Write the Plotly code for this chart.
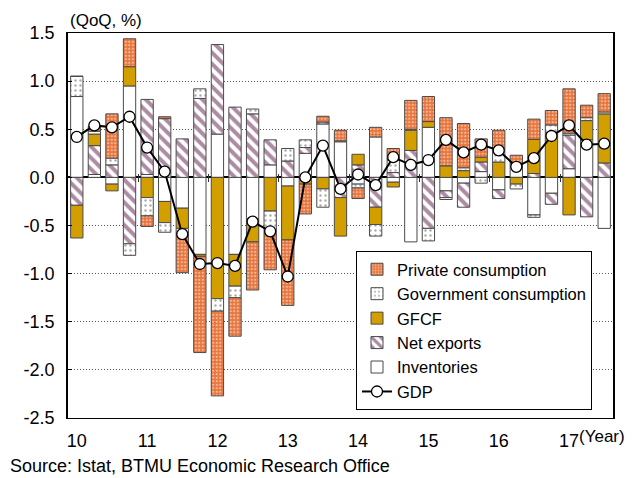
import plotly.graph_objects as go

# ---------------- data ----------------
quarters = ["2010Q1", "2010Q2", "2010Q3", "2010Q4",
            "2011Q1", "2011Q2", "2011Q3", "2011Q4",
            "2012Q1", "2012Q2", "2012Q3", "2012Q4",
            "2013Q1", "2013Q2", "2013Q3", "2013Q4",
            "2014Q1", "2014Q2", "2014Q3", "2014Q4",
            "2015Q1", "2015Q2", "2015Q3", "2015Q4",
            "2016Q1", "2016Q2", "2016Q3", "2016Q4",
            "2017Q1", "2017Q2", "2017Q3"]

private_consumption = [0.00, 0.05, 0.46, 0.29, -0.11, 0.02, -0.41, -1.00,
                       -0.88, -0.40, -0.50, -0.40, -0.68, -0.31, 0.06, 0.11,
                       -0.11, 0.10, 0.12, 0.30, 0.26, 0.50, 0.46, 0.19,
                       0.21, 0.08, 0.21, 0.15, 0.46, 0.13, 0.19]
government_consumption = [0.21, 0.03, 0.07, -0.12, -0.19, -0.10, -0.05, 0.10,
                          -0.13, -0.12, 0.05, -0.21, 0.13, 0.08, -0.19, 0.01,
                          -0.04, -0.12, 0.13, 0.01, -0.13, -0.02, 0.03, -0.06,
                          0.12, -0.05, -0.025, 0.075, 0.02, 0.03, 0.02]
gfcf = [-0.34, 0.12, -0.07, 0.20, -0.21, -0.22, -0.21, -0.02,
        -1.26, -0.33, -0.24, -0.35, -0.56, -0.07, -0.12, -0.40,
        0.11, -0.18, -0.05, 0.21, 0.06, 0.12, 0.07, 0.05,
        0.16, -0.07, 0.355, 0.47, -0.39, 0.20, 0.51]
net_exports = [-0.29, 0.30, 0.13, -0.69, 0.78, 0.61, 0.40, 0.82,
               0.93, 0.73, 0.66, 0.26, 0.17, 0.06, 0.02, -0.21,
               0.13, -0.31, 0.05, 0.28, -0.53, -0.07, -0.25, 0.10,
               -0.09, 0.01, 0.04, -0.115, 0.35, -0.41, 0.15]
inventories = [0.84, 0.03, -0.07, 0.95, 0.03, -0.25, -0.32, -0.80,
               0.45, -0.80, -0.43, 0.13, -0.09, 0.25, 0.555, 0.37,
               -0.07, 0.42, -0.05, -0.67, 0.52, -0.14, -0.06, 0.06,
               -0.13, 0.14, -0.39, -0.165, 0.09, 0.39, -0.53]
gdp = [0.42, 0.54, 0.52, 0.63, 0.31, 0.06, -0.59, -0.90,
       -0.89, -0.92, -0.46, -0.56, -1.03, 0.00, 0.33, -0.12,
       0.03, -0.08, 0.21, 0.13, 0.18, 0.39, 0.26, 0.34,
       0.28, 0.11, 0.20, 0.43, 0.54, 0.34, 0.35]

year_labels = ["10", "11", "12", "13", "14", "15", "16", "17"]
y_tick_values = [1.5, 1.0, 0.5, 0.0, -0.5, -1.0, -1.5, -2.0, -2.5]
y_tick_text = ["1.5", "1.0", "0.5", "0.0", "-0.5", "-1.0", "-1.5", "-2.0", "-2.5"]

# ---------------- derived positions ----------------
x_idx = list(range(len(quarters)))
year_tick_pos = [i for i, q in enumerate(quarters) if q.endswith("Q1")]
year_bound_pos = [p - 0.5 for p in year_tick_pos[1:]]

FONT = "Liberation Sans, Arial, sans-serif"
OUTLINE = dict(color="#4a4a4a", width=1)
BARW = 0.7

fig = go.Figure()

fig.add_trace(go.Bar(
    x=x_idx, y=inventories, name="Inventories", width=BARW, legendrank=5,
    marker=dict(color="white", line=OUTLINE)))
fig.add_trace(go.Bar(
    x=x_idx, y=net_exports, name="Net exports", width=BARW, legendrank=4,
    marker=dict(color="white", line=OUTLINE,
                pattern=dict(shape="\\", fgcolor="#5a1748", bgcolor="white",
                             size=8, solidity=0.5))))
fig.add_trace(go.Bar(
    x=x_idx, y=gfcf, name="GFCF", width=BARW, legendrank=3,
    marker=dict(color="#D29E00", line=OUTLINE)))
fig.add_trace(go.Bar(
    x=x_idx, y=government_consumption, name="Government consumption",
    width=BARW, legendrank=2,
    marker=dict(color="white", line=OUTLINE,
                pattern=dict(shape=".", fgcolor="#555555", bgcolor="white",
                             size=5, solidity=0.18))))
fig.add_trace(go.Bar(
    x=x_idx, y=private_consumption, name="Private consumption",
    width=BARW, legendrank=1,
    marker=dict(color="#E8743B", line=OUTLINE,
                pattern=dict(shape=".", fgcolor="white", bgcolor="#E8743B",
                             size=3.5, solidity=0.35))))
fig.add_trace(go.Scatter(
    x=x_idx, y=gdp, name="GDP", mode="lines+markers", legendrank=6,
    line=dict(color="black", width=2),
    marker=dict(symbol="circle", size=11, color="white",
                line=dict(color="black", width=1.3))))

# helper trace for year-boundary ticks on the zero line
fig.add_trace(go.Scatter(x=[], y=[], xaxis="x2", showlegend=False,
                         hoverinfo="skip"))

fig.update_layout(
    width=632, height=478,
    margin=dict(l=68, r=19, t=33, b=60, autoexpand=False),
    barmode="relative",
    paper_bgcolor="white", plot_bgcolor="white",
    font=dict(family=FONT, size=18, color="black"),
    showlegend=True,
    legend=dict(x=(356 - 68) / 545, y=8 / 385, xanchor="left", yanchor="bottom",
                bgcolor="white", bordercolor="black", borderwidth=1,
                font=dict(size=16.5), itemwidth=30, tracegroupgap=0),
    xaxis=dict(range=[-0.5, 30.5], tickmode="array",
               tickvals=year_tick_pos, ticktext=year_labels,
               ticks="", showgrid=False, zeroline=False,
               showline=True, mirror=True, linecolor="black", linewidth=1,
               ticklabelstandoff=6),
    xaxis2=dict(range=[-0.5, 30.5], overlaying="x", anchor="free",
                position=0.625 + 4 / 385, side="bottom",
                tickmode="array", tickvals=year_bound_pos,
                ticks="outside", ticklen=8, tickcolor="#333333",
                showticklabels=False, showgrid=False, zeroline=False,
                showline=False),
    yaxis=dict(range=[-2.5, 1.5], tickmode="array",
               tickvals=y_tick_values, ticktext=y_tick_text,
               ticks="inside", ticklen=4, tickcolor="black",
               showgrid=True, gridcolor="#555555", griddash="1px,2px",
               gridwidth=1,
               zeroline=True, zerolinecolor="black", zerolinewidth=1.5,
               showline=True, mirror=True, linecolor="black", linewidth=1.5,
               ticklabelstandoff=8),
    annotations=[
        dict(text="(QoQ, %)", xref="paper", yref="paper", x=0, y=1,
             xanchor="left", yanchor="bottom", showarrow=False, yshift=1,
             font=dict(size=17)),
        dict(text="(Year)", xref="x", yref="paper", x=year_tick_pos[-1], y=0,
             xanchor="left", yanchor="top", showarrow=False,
             xshift=8, yshift=-7, font=dict(size=17)),
        dict(text="Source: Istat, BTMU Economic Research Office",
             xref="paper", yref="paper", x=-60 / 545, y=-48 / 385,
             xanchor="left", yanchor="middle", showarrow=False,
             font=dict(size=18)),
    ],
)

fig.write_html("out.html",
               config={"displayModeBar": False},
               post_script="document.body.style.margin='0px';"
                           "document.body.style.padding='0px';")
